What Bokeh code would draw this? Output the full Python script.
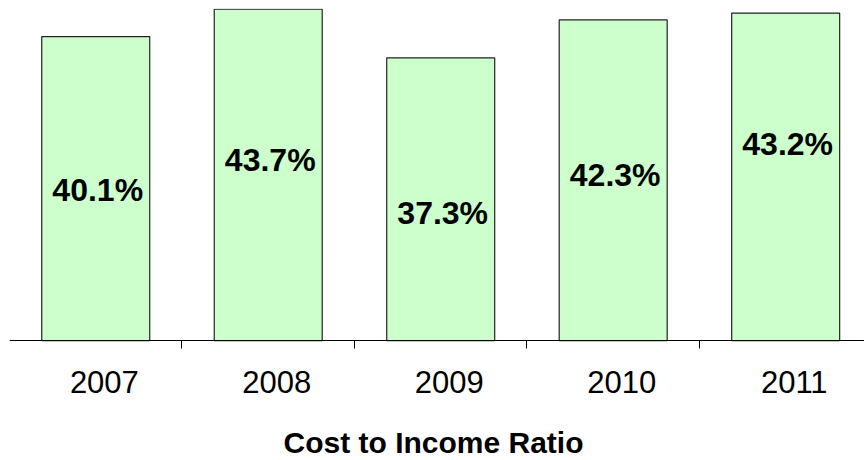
from bokeh.plotting import figure
from bokeh.models import ColumnDataSource, Range1d, FixedTicker, CustomJSTickFormatter, LinearAxis, Label
from bokeh.core.properties import value
from bokeh.embed import file_html
from bokeh.resources import INLINE

# ---- data ----
years = ["2007", "2008", "2009", "2010", "2011"]
ratios = [40.1, 43.7, 37.3, 42.3, 43.2]
label_y = [19.9, 23.8, 16.8, 21.9, 25.9]   # heights where the value labels sit
title_text = "Cost to Income Ratio"

xs = list(range(len(years)))
src = ColumnDataSource(dict(
    x=xs,
    top=ratios,
    ly=label_y,
    txt=[f"{v:.1f}%" for v in ratios],
))

FONT = "Liberation Sans"

# frame runs to the bottom edge; the axis sits at y = 0 inside it
p = figure(width=864, height=460, output_backend="svg", toolbar_location=None,
           x_range=Range1d(-0.5, 4.457), y_range=Range1d(-15.81, 43.8),
           min_border_left=9, min_border_right=0, min_border_top=8,
           min_border_bottom=0, x_axis_location=None, y_axis_location=None)
p.outline_line_color = None
p.grid.visible = False
p.background_fill_color = "white"
p.border_fill_color = "white"

p.vbar(x="x", top="top", bottom=0, width=0.626, source=src,
       fill_color="#CCFFCC", line_color="#222222", line_width=1.2)

p.text(x="x", y="ly", text="txt", source=src, text_align="center",
       text_baseline="middle", text_font=value(FONT), text_font_style="bold",
       text_font_size="32px", text_color="black", x_offset=2)

ax = LinearAxis(
    fixed_location=0,
    ticker=FixedTicker(ticks=[i + 0.05 for i in xs], minor_ticks=[i + 0.5 for i in xs[:-1]]),
    formatter=CustomJSTickFormatter(args=dict(labels=years), code="return labels[Math.round(tick)];"),
)
ax.axis_line_color = "black"
ax.axis_line_width = 1
ax.major_tick_line_color = None
ax.major_tick_out = 0
ax.major_tick_in = 0
ax.minor_tick_line_color = "black"
ax.minor_tick_out = 8
ax.minor_tick_in = 0
ax.major_label_text_font = FONT
ax.major_label_text_font_size = "31px"
ax.major_label_text_color = "black"
ax.major_label_standoff = 22
p.add_layout(ax, "below")

title = Label(x=424, y=18, x_units="screen", y_units="screen", text=title_text,
              text_align="center", text_baseline="alphabetic", text_font=FONT,
              text_font_style="bold", text_font_size="30px", text_color="black")
p.add_layout(title)

open("out.html", "w").write(file_html(p, INLINE))
